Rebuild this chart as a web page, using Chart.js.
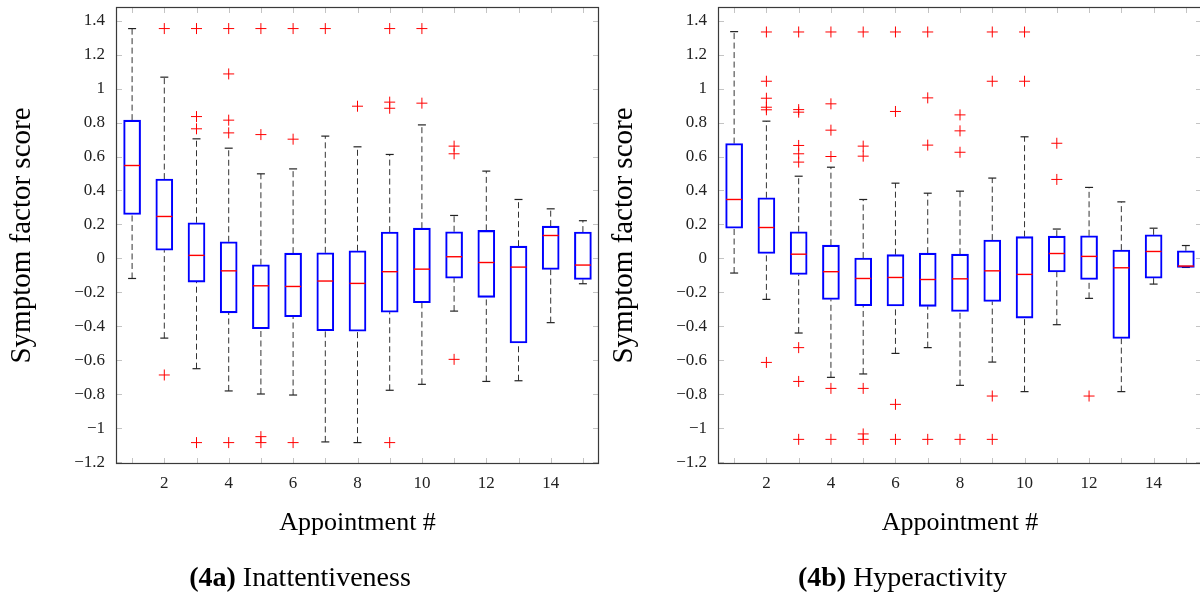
<!DOCTYPE html>
<html>
<head>
<meta charset="utf-8">
<script src="https://cdn.jsdelivr.net/npm/chart.js@4.4.1/dist/chart.umd.min.js"></script>
<style>
  html, body { margin: 0; padding: 0; background: #fff; overflow: hidden; width: 1200px; height: 598px; }
  .panel { position: absolute; top: 0; height: 598px; }
  .caption { position: absolute; left: 0; top: 561px; width: 100%; text-align: center;
             font: 28px "Liberation Serif", serif; line-height: 32px; color: #000; }
</style>
</head>
<body>
<div class="panel" style="left:0;width:600px">
  <canvas id="chartA" width="600" height="598"></canvas>
  <div class="caption"><b>(4a)</b> Inattentiveness</div>
</div>
<div class="panel" style="left:602px;width:601px">
  <canvas id="chartB" width="601" height="598"></canvas>
  <div class="caption"><b>(4b)</b> Hyperactivity</div>
</div>
<script>
const appointments = [1, 2, 3, 4, 5, 6, 7, 8, 9, 10, 11, 12, 13, 14, 15];
const xTickLabels = ['', '2', '', '4', '', '6', '', '8', '', '10', '', '12', '', '14', ''];
const yTicks = [-1.2, -1, -0.8, -0.6, -0.4, -0.2, 0, 0.2, 0.4, 0.6, 0.8, 1, 1.2, 1.4];
const yTickLabels = ['−1.2', '−1', '−0.8', '−0.6', '−0.4', '−0.2', '0', '0.2', '0.4', '0.6', '0.8', '1', '1.2', '1.4'];

// (4a) Inattentiveness
const inattLow = [-0.118, -0.469, -0.649, -0.78, -0.798, -0.804, -1.08, -1.084, -0.776, -0.741, -0.31, -0.724, -0.72, -0.378, -0.149];
const inattQ1 = [0.259, 0.049, -0.139, -0.32, -0.414, -0.343, -0.425, -0.428, -0.316, -0.261, -0.116, -0.229, -0.498, -0.065, -0.124];
const inattMedian = [0.547, 0.247, 0.018, -0.073, -0.161, -0.165, -0.133, -0.147, -0.078, -0.063, 0.01, -0.024, -0.051, 0.135, -0.039];
const inattQ3 = [0.814, 0.467, 0.21, 0.098, -0.037, 0.031, 0.033, 0.045, 0.155, 0.178, 0.157, 0.165, 0.072, 0.19, 0.155];
const inattHigh = [1.353, 1.067, 0.704, 0.649, 0.498, 0.527, 0.72, 0.657, 0.612, 0.786, 0.253, 0.514, 0.347, 0.292, 0.222];
const inattOutliers = [
  [],
  [1.353, -0.686],
  [1.353, 0.835, 0.763, -1.084],
  [1.353, 1.086, 0.814, 0.739, -1.084],
  [1.353, 0.729, -1.049, -1.084],
  [1.353, 0.702, -1.084],
  [1.353],
  [0.896],
  [1.353, 0.92, 0.884, -1.084],
  [1.353, 0.914],
  [0.661, 0.616, -0.594],
  [], [], [], []
];

// (4b) Hyperactivity
const hyperLow = [-0.086, -0.241, -0.439, -0.7, -0.68, -0.559, -0.525, -0.747, -0.61, -0.784, -0.39, -0.235, -0.784, -0.151, -0.053];
const hyperQ1 = [0.178, 0.029, -0.094, -0.241, -0.278, -0.28, -0.282, -0.312, -0.253, -0.351, -0.08, -0.124, -0.471, -0.116, -0.053];
const hyperMedian = [0.347, 0.182, 0.025, -0.078, -0.118, -0.112, -0.124, -0.12, -0.073, -0.094, 0.029, 0.012, -0.055, 0.041, -0.045];
const hyperQ3 = [0.676, 0.357, 0.157, 0.078, 0.002, 0.022, 0.031, 0.025, 0.108, 0.128, 0.131, 0.133, 0.049, 0.139, 0.045];
const hyperHigh = [1.335, 0.808, 0.484, 0.537, 0.347, 0.443, 0.384, 0.396, 0.473, 0.716, 0.173, 0.418, 0.333, 0.178, 0.076];
const hyperOutliers = [
  [],
  [1.333, 1.043, 0.943, 0.89, 0.875, -0.612],
  [1.333, 0.876, 0.861, 0.665, 0.616, 0.567, -0.525, -0.724, -1.065],
  [1.333, 0.91, 0.755, 0.6, -0.765, -1.065],
  [1.333, 0.661, 0.602, -0.765, -1.033, -1.065],
  [1.333, 0.865, -0.859, -1.065],
  [1.333, 0.945, 0.667, -1.065],
  [0.845, 0.751, 0.625, -1.065],
  [1.333, 1.043, -0.81, -1.065],
  [1.333, 1.043],
  [0.678, 0.465],
  [-0.81],
  [], [], []
];

const serif = '"Liberation Serif", "Times New Roman", serif';

// frame and inward tick marks, pgfplots style
const framePlugin = {
  id: 'frame',
  beforeDatasetsDraw(chart) {
    const { ctx, chartArea: a, scales: { x, y } } = chart;
    ctx.save();
    ctx.strokeStyle = '#c4c4c4';
    ctx.lineWidth = 1;
    ctx.beginPath();
    yTicks.forEach(v => {
      const py = Math.round(y.getPixelForValue(v)) + 0.5;
      ctx.moveTo(a.left, py); ctx.lineTo(a.left + 6, py);
      ctx.moveTo(a.right, py); ctx.lineTo(a.right - 6, py);
    });
    appointments.forEach(v => {
      const px = Math.round(x.getPixelForValue(v)) + 0.5;
      ctx.moveTo(px, a.bottom); ctx.lineTo(px, a.bottom - 6);
      ctx.moveTo(px, a.top); ctx.lineTo(px, a.top + 6);
    });
    ctx.stroke();
    ctx.restore();
  },
  afterDatasetsDraw(chart) {
    const { ctx, chartArea: a } = chart;
    ctx.save();
    ctx.strokeStyle = '#3a3a3a';
    ctx.lineWidth = 1.2;
    ctx.strokeRect(a.left + 0.5, a.top + 0.5, a.right - a.left - 1, a.bottom - a.top - 1);
    ctx.restore();
  }
};

function boxChart(id, low, q1, med, q3, high, outliers) {
  const boxes = appointments.map((a, i) => ({ x: a, y: [q1[i], q3[i]] }));
  const whiskers = [];
  appointments.forEach((a, i) => {
    whiskers.push({ x: a, y: low[i] }, { x: a, y: q1[i] }, { x: a, y: null },
                  { x: a, y: q3[i] }, { x: a, y: high[i] }, { x: a, y: null });
  });
  const caps = appointments.flatMap((a, i) => [{ x: a, y: low[i] }, { x: a, y: high[i] }]);
  const medians = appointments.map((a, i) => ({ x: a, y: med[i] }));
  const outs = appointments.flatMap((a, i) => outliers[i].map(v => ({ x: a, y: v })));

  return new Chart(document.getElementById(id), {
    type: 'bar',
    data: {
      datasets: [
        { type: 'scatter', data: outs, pointStyle: 'cross', pointRadius: 5.5,
          borderColor: '#ff0000', backgroundColor: '#ff0000', pointBorderWidth: 1 },
        { type: 'scatter', data: medians, pointStyle: 'line', pointRadius: 8,
          borderColor: '#ff0000', pointBorderWidth: 1.4 },
        { type: 'bar', data: boxes, barThickness: 17, borderSkipped: false,
          borderColor: '#0000ff', borderWidth: 1.4, backgroundColor: 'rgba(255,255,255,0)' },
        { type: 'scatter', data: caps, pointStyle: 'line', pointRadius: 4,
          borderColor: '#222', pointBorderWidth: 1.2 },
        { type: 'line', data: whiskers, borderColor: '#333', borderWidth: 1,
          borderDash: [6, 3.5], pointRadius: 0, spanGaps: false }
      ]
    },
    options: {
      responsive: false,
      animation: false,
      layout: { autoPadding: false, padding: { top: 7, right: 1, left: 0, bottom: 0 } },
      plugins: { legend: { display: false }, tooltip: { enabled: false } },
      scales: {
        x: {
          type: 'linear', min: 0.5, max: 15.5, offset: false,
          grid: { display: false, drawTicks: false, offset: false },
          border: { display: false },
          afterBuildTicks: s => { s.ticks = appointments.map(v => ({ value: v })); },
          afterFit: s => { s.height = 134; s.paddingLeft = 0; s.paddingRight = 0; },
          ticks: { autoSkip: false, maxRotation: 0, padding: 9, color: '#222',
                   font: { family: serif, size: 17 },
                   callback: (v, i) => xTickLabels[i] },
          title: { display: true, text: 'Appointment #', color: '#000',
                   font: { family: serif, size: 26 }, padding: { top: 0, bottom: 59 } }
        },
        y: {
          min: -1.21, max: 1.48,
          grid: { display: false, drawTicks: false },
          border: { display: false },
          afterBuildTicks: s => { s.ticks = yTicks.map(v => ({ value: v })); },
          afterFit: s => { s.width = 116; s.paddingTop = 0; s.paddingBottom = 0; },
          ticks: { padding: 11, color: '#222', font: { family: serif, size: 17 },
                   callback: (v, i) => yTickLabels[i] },
          title: { display: true, text: 'Symptom factor score', color: '#000',
                   font: { family: serif, size: 29 }, padding: { top: 5, bottom: 0 } }
        }
      }
    },
    plugins: [framePlugin]
  });
}

boxChart('chartA', inattLow, inattQ1, inattMedian, inattQ3, inattHigh, inattOutliers);
boxChart('chartB', hyperLow, hyperQ1, hyperMedian, hyperQ3, hyperHigh, hyperOutliers);
</script>
</body>
</html>
